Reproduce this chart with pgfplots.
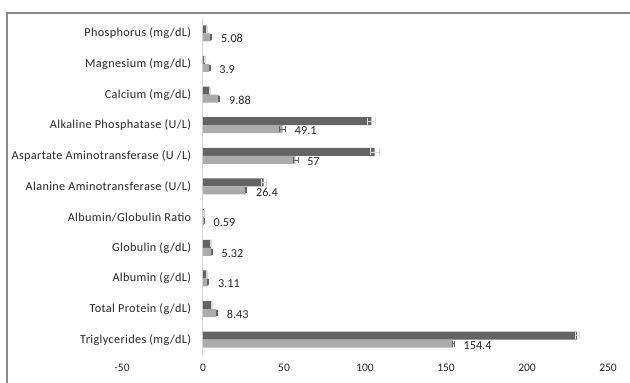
\documentclass[border=0pt]{standalone}
\usepackage{fontspec}
\setmainfont{Carlito}
\usepackage{pgfplots}
\usepackage{pgfplotstable}
\pgfplotsset{compat=1.18}
\usetikzlibrary{calc}
\definecolor{darkbar}{HTML}{646464}
\definecolor{lightbar}{HTML}{ABABAB}
\definecolor{framec}{HTML}{8A8A8A}
\pgfplotstableread{
y dark darkerr light lighterr
0 231 1.5 154.4 0.6
1 5.4 0.5 8.43 0.4
2 2.2 0.4 3.11 0.3
3 4.8 0.5 5.32 0.3
4 0.5 0.1 0.59 0.1
5 37.5 1.5 26.4 0.5
6 106 3.0 57 1.5
7 104 2.5 49.1 1.8
8 4.2 0.5 9.88 0.4
9 1.2 0.4 3.9 0.3
10 2.2 0.4 5.08 0.3
}\datatab
\pgfplotsset{common/.style={
  scale only axis, width=486pt, height=337pt,
  xmin=-50, xmax=250, ymin=-0.5, ymax=10.5,
  clip=false, xbar, bar width=8pt}}
\begin{document}
\begin{tikzpicture}
\begin{axis}[
  common,
  axis line style={draw=none},
  tick style={draw=none},
  xtick={-50,0,50,100,150,200,250},
  xticklabel style={yshift=-6pt, font=\fontsize{11.5}{13}\selectfont},
  ytick={0,...,10},
  yticklabels={Triglycerides (mg/dL),Total Protein (g/dL),Albumin (g/dL),Globulin (g/dL),Albumin/Globulin Ratio,Alanine Aminotransferase (U/L),Aspartate Aminotransferase (U /L),Alkaline Phosphatase (U/L),Calcium (mg/dL),Magnesium (mg/dL),Phosphorus (mg/dL)},
  yticklabel style={anchor=east, xshift=77pt, font=\addfontfeatures{LetterSpace=3}\fontsize{12.2}{14}\selectfont},
  ticklabel style={text=black!85},
  /pgf/number format/assume math mode=true,
  extra x ticks={0}, extra x tick labels={},
  extra x tick style={grid=major, major grid style={black!15, line width=1pt}},
]
\coordinate (O) at (rel axis cs:0,0);
\addplot[fill=darkbar, draw=none, bar shift=4pt,
  error bars/.cd, x dir=both, x explicit,
  error bar style={black!15, line width=0.5pt}, error mark options={rotate=90, mark size=3.5pt, black!15, line width=0.5pt}]
  table[x=dark, y=y, x error=darkerr] {\datatab};
\addplot[fill=lightbar, draw=none, bar shift=-4pt,
  error bars/.cd, x dir=both, x explicit,
  error bar style={darkbar, line width=0.5pt}, error mark options={rotate=90, mark size=3pt, darkbar, line width=0.5pt}]
  table[x=light, y=y, x error=lighterr] {\datatab};
\addplot[draw=none, fill=none, bar shift=-4pt, forget plot,
  nodes near coords,
  nodes near coords style={anchor=west, xshift=6pt, yshift=-1.5pt, font=\fontsize{12.2}{14}\selectfont, text=black!85},
  point meta=explicit symbolic]
  table[x expr=\thisrow{light}+\thisrow{lighterr}, y=y, meta=light] {\datatab};
\end{axis}
\path[use as bounding box] ($(O)+(-122pt,-28pt)$) coordinate (BL) rectangle ++(630pt,383pt);
\draw[framec, line width=1.5pt] ($(BL)+(7pt,-2pt)$) -- ++(0,372pt) -- ++(626pt,0);
\end{tikzpicture}
\end{document}
